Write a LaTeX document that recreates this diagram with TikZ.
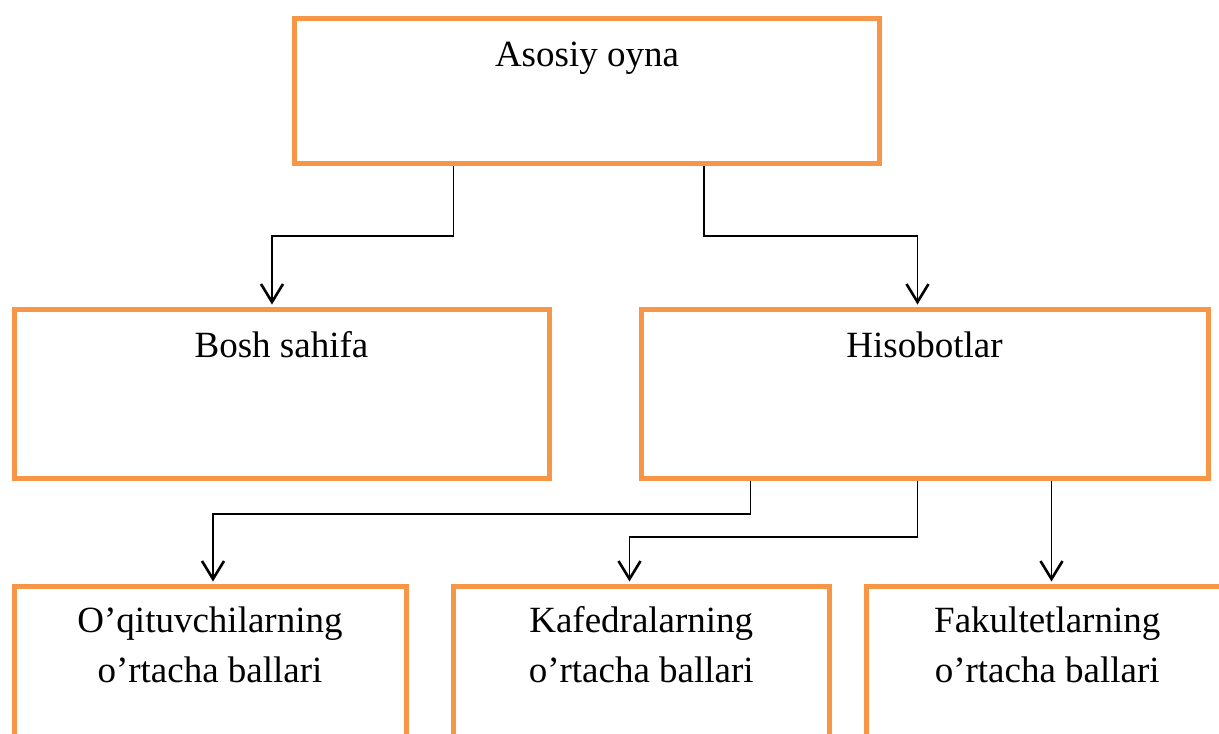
\documentclass[tikz,border=0pt]{standalone}
\usepackage{fontspec}
\setmainfont{Liberation Serif}
\usetikzlibrary{arrows.meta}
\definecolor{boxorange}{HTML}{F79646}
\tikzset{
  box/.style={draw=boxorange, line width=5pt, rectangle, inner sep=0pt, fill=white},
  lbl/.style={anchor=base, inner sep=0pt, font=\fontsize{37}{50}\selectfont},
  conn/.style={draw=black, line width=1.8pt, line join=miter, -{Straight Barb[length=18pt,width=22pt,line width=2.6pt]}, shorten >=2.5pt}
}
\begin{document}
\begin{tikzpicture}[x=1pt,y=-1pt]
\clip (0,0) rectangle (1219,734);
\fill[white] (0,0) rectangle (1219,734);
% boxes
\node[box, minimum width=585pt, minimum height=145pt] (top) at (587,91) {};
\node[box, minimum width=535pt, minimum height=169pt] (bosh) at (281.5,394) {};
\node[box, minimum width=567pt, minimum height=169pt] (hisob) at (924.5,394) {};
\node[box, minimum width=392pt, minimum height=173.5pt] (b1) at (210,673.25) {};
\node[box, minimum width=375.5pt, minimum height=173.5pt] (b2) at (641.25,673.25) {};
\node[box, minimum width=361.5pt, minimum height=173.5pt] (b3) at (1047.25,673.25) {};
% labels
\node[lbl] (ttop) at (587,66) {Asosiy oyna};
\node[lbl] (tbosh) at (281.5,357) {Bosh sahifa};
\node[lbl] (thisob) at (924.5,357) {Hisobotlar};
\node[lbl] (tb1a) at (210,632) {O’qituvchilarning};
\node[lbl] (tb1b) at (210,682) {o’rtacha ballari};
\node[lbl] (tb2a) at (641.25,632) {Kafedralarning};
\node[lbl] (tb2b) at (641.25,682) {o’rtacha ballari};
\node[lbl] (tb3a) at (1047.25,632) {Fakultetlarning};
\node[lbl] (tb3b) at (1047.25,682) {o’rtacha ballari};
% bend points
\coordinate (p1) at (453.5,236);
\coordinate (q1) at (272,236);
\coordinate (p2) at (704,236);
\coordinate (q2) at (917.5,236);
\coordinate (p3) at (750.5,514);
\coordinate (q3) at (213,514);
\coordinate (p4) at (917.5,537);
\coordinate (q4) at (629.5,537);
\coordinate (p5) at (1051.5,500);
% connectors
\draw[conn] (top.south -| p1) -- (p1) -- (q1) -- (bosh.north -| q1);
\draw[conn] (top.south -| p2) -- (p2) -- (q2) -- (hisob.north -| q2);
\draw[conn] (hisob.south -| p3) -- (p3) -- (q3) -- (b1.north -| q3);
\draw[conn] (hisob.south -| p4) -- (p4) -- (q4) -- (b2.north -| q4);
\draw[conn] (hisob.south -| p5) -- (b3.north -| p5);
\end{tikzpicture}
\end{document}
